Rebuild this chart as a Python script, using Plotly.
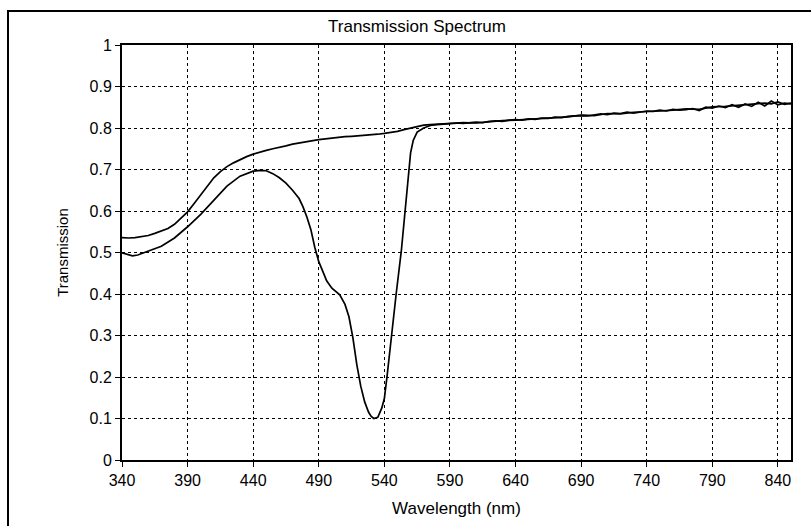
import plotly.graph_objects as go

# ---- data ----
wl_upper = [340, 345, 350, 355, 360, 365, 370, 375, 380, 385, 390, 395, 400, 405, 410, 415, 420, 425,
            430, 435, 440, 445, 450, 455, 460, 465, 470, 475, 480, 485, 490, 495, 500, 505, 510, 515,
            520, 525, 530, 535, 540, 545, 550, 555, 560, 565, 570, 575, 580, 585, 590, 595, 600, 605,
            610, 615, 620, 625, 630, 635, 640, 645, 650, 655, 660, 665, 670, 675, 680, 685, 690, 695,
            700, 705, 710, 715, 720, 725, 730, 735, 740, 745, 750, 755, 760, 765, 770, 775, 780, 785,
            790, 795, 800, 805, 810, 815, 820, 825, 830, 835, 840, 845, 850]
t_upper = [0.536, 0.535, 0.536, 0.538, 0.541, 0.546, 0.552, 0.558, 0.568, 0.582, 0.598, 0.618, 0.638,
           0.660, 0.680, 0.695, 0.707, 0.716, 0.724, 0.731, 0.737, 0.742, 0.746, 0.750, 0.753, 0.757,
           0.761, 0.764, 0.767, 0.770, 0.772, 0.774, 0.776, 0.777, 0.779, 0.780, 0.781, 0.782, 0.783,
           0.785, 0.787, 0.789, 0.792, 0.796, 0.800, 0.804, 0.807, 0.808, 0.809, 0.810, 0.811, 0.812,
           0.811, 0.813, 0.814, 0.813, 0.816, 0.817, 0.816, 0.819, 0.820, 0.819, 0.822, 0.821, 0.824,
           0.823, 0.826, 0.825, 0.828, 0.829, 0.830, 0.829, 0.832, 0.834, 0.832, 0.836, 0.835, 0.838,
           0.836, 0.839, 0.841, 0.840, 0.843, 0.841, 0.845, 0.843, 0.844, 0.847, 0.842, 0.850, 0.848,
           0.853, 0.849, 0.856, 0.850, 0.858, 0.852, 0.862, 0.853, 0.865, 0.856, 0.860, 0.858]

wl_lower = [340, 345, 348, 352, 360, 370, 380, 390, 400, 410, 420, 430, 440, 445, 450, 455, 460, 465,
            470, 475, 478, 481, 484, 487, 490, 493, 496, 500, 503, 506, 510, 513, 516, 519, 522, 525,
            528, 530, 532, 535, 538, 540, 542, 544, 546, 549, 553, 556, 558, 560, 562, 565, 570, 575,
            580, 590, 600, 610, 620, 630, 640, 650, 660, 670, 680, 690, 700, 710, 720, 730, 740, 750,
            760, 770, 780, 790, 800, 810, 820, 830, 835, 840, 845, 850]
t_lower = [0.499, 0.494, 0.492, 0.494, 0.503, 0.515, 0.535, 0.562, 0.592, 0.625, 0.660, 0.684, 0.696,
           0.698, 0.697, 0.690, 0.680, 0.667, 0.650, 0.630, 0.610, 0.585, 0.555, 0.512, 0.478, 0.455,
           0.432, 0.414, 0.405, 0.398, 0.375, 0.345, 0.295, 0.230, 0.178, 0.140, 0.115, 0.105, 0.100,
           0.103, 0.125, 0.148, 0.200, 0.260, 0.320, 0.400, 0.506, 0.600, 0.680, 0.740, 0.770, 0.790,
           0.800, 0.806, 0.808, 0.810, 0.813, 0.812, 0.815, 0.818, 0.819, 0.821, 0.822, 0.825, 0.827,
           0.831, 0.830, 0.835, 0.834, 0.838, 0.839, 0.841, 0.843, 0.846, 0.845, 0.851, 0.852, 0.855,
           0.857, 0.860, 0.858, 0.863, 0.857, 0.860]

x_ticks = [340, 390, 440, 490, 540, 590, 640, 690, 740, 790, 840]
y_ticks = [0, 0.1, 0.2, 0.3, 0.4, 0.5, 0.6, 0.7, 0.8, 0.9, 1]
y_tick_text = ["0", "0.1", "0.2", "0.3", "0.4", "0.5", "0.6", "0.7", "0.8", "0.9", "1"]

FONT = "Liberation Sans, Arial, sans-serif"

fig = go.Figure()
fig.add_trace(go.Scatter(x=wl_upper, y=t_upper, mode="lines",
                         line=dict(color="black", width=1.7), showlegend=False))
fig.add_trace(go.Scatter(x=wl_lower, y=t_lower, mode="lines",
                         line=dict(color="black", width=1.7), showlegend=False))

axis_common = dict(
    showgrid=True, gridcolor="black", gridwidth=1, griddash="3px,3px",
    showline=True, linecolor="black", linewidth=2, mirror=True,
    ticks="outside", ticklen=5, tickwidth=1, tickcolor="black",
    tickfont=dict(family=FONT, size=16, color="black"),
    zeroline=False,
)

fig.update_xaxes(range=[340, 850], tickvals=x_ticks, ticktext=[str(v) for v in x_ticks],
                 title=dict(text="Wavelength (nm)", font=dict(family=FONT, size=17, color="black"),
                            standoff=14),
                 **axis_common)
fig.update_yaxes(range=[0, 1], tickvals=y_ticks, ticktext=y_tick_text,
                 title=dict(text="Transmission", font=dict(family=FONT, size=15, color="black"),
                            standoff=17),
                 **axis_common)

fig.update_layout(
    width=811, height=526,
    margin=dict(l=122, r=20, t=45, b=66),
    paper_bgcolor="white", plot_bgcolor="white",
    title=dict(text="Transmission Spectrum", font=dict(family=FONT, size=17, color="black"),
               x=417 / 811, xanchor="center", xref="container",
               y=1 - 26 / 526, yanchor="middle", yref="container"),
    shapes=[dict(type="rect", xref="paper", yref="paper",
                 x0=(8 - 122) / 669, x1=(830 - 122) / 669,
                 y0=(460 - 560) / 415, y1=(460 - 11) / 415,
                 line=dict(color="black", width=2), fillcolor="rgba(0,0,0,0)", layer="below")],
)

fig.write_html("out.html")
